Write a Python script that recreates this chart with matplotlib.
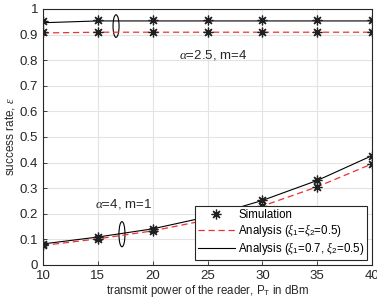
import matplotlib.pyplot as plt
from matplotlib.patches import Ellipse

plt.rcParams['font.family'] = ['Liberation Sans', 'DejaVu Sans']
plt.rcParams['mathtext.fontset'] = 'custom'
plt.rcParams['mathtext.rm'] = 'Liberation Sans'
plt.rcParams['mathtext.it'] = 'Liberation Serif:italic'

# transmit power (dBm)
pt = [10, 15, 20, 25, 30, 35, 40]

# alpha=2.5, m=4
sim_hi_a = [0.952, 0.955, 0.955, 0.955, 0.955, 0.955, 0.955]
sim_hi_b = [0.908, 0.910, 0.910, 0.910, 0.910, 0.910, 0.910]
ana_hi_equal = [0.906, 0.909, 0.909, 0.909, 0.909, 0.909, 0.909]
ana_hi_unequal = [0.946, 0.953, 0.953, 0.953, 0.953, 0.953, 0.953]

# alpha=4, m=1
sim_lo_a = [0.082, 0.110, 0.142, 0.190, 0.254, 0.332, 0.427]
sim_lo_b = [0.076, 0.103, 0.134, 0.178, 0.232, 0.306, 0.395]
ana_lo_equal = [0.076, 0.102, 0.133, 0.176, 0.230, 0.305, 0.395]
ana_lo_unequal = [0.082, 0.109, 0.141, 0.188, 0.252, 0.330, 0.427]

fig = plt.figure(figsize=(3.77, 3.07), dpi=100)
ax = fig.add_axes([0.114, 0.137, 0.873, 0.834])

ax.plot(pt, ana_hi_equal, '--', color='#f03030', lw=0.9, dashes=(5, 3))
ax.plot(pt, ana_hi_unequal, '-', color='black', lw=0.8)
ax.plot(pt, ana_lo_equal, '--', color='#f03030', lw=0.9, dashes=(5, 3))
ax.plot(pt, ana_lo_unequal, '-', color='black', lw=0.8)

star = (8, 2, 0)
for s in (sim_hi_a, sim_hi_b, sim_lo_a, sim_lo_b):
    ax.plot(pt, s, linestyle='none', marker=star, ms=7, mew=0.9, color='#202020')

# legend handles
h_sim, = ax.plot([], [], linestyle='none', marker=star, ms=7, mew=0.9,
                 color='#202020', label='Simulation')
h_eq, = ax.plot([], [], '--', color='#f03030', lw=0.9, dashes=(5, 3),
                label=r'Analysis ($\xi_1$=$\xi_2$=0.5)')
h_un, = ax.plot([], [], '-', color='black', lw=0.8,
                label=r'Analysis ($\xi_1$=0.7, $\xi_2$=0.5)')
leg = ax.legend(handles=[h_sim, h_eq, h_un], loc='lower right', fontsize=8.3,
                fancybox=False, framealpha=1, edgecolor='#262626',
                borderpad=0.25, labelspacing=0.1, handlelength=3.2,
                handletextpad=0.3, borderaxespad=0.4)
leg.get_frame().set_linewidth(0.8)

ax.add_patch(Ellipse((16.66, 0.933), 0.55, 0.088, fill=False, lw=0.8, color='black'))
ax.add_patch(Ellipse((17.2, 0.120), 0.55, 0.098, fill=False, lw=0.8, color='black'))

ax.text(22.4, 0.82, r'$\alpha$=2.5, m=4', fontsize=9.5, va='center', color='#262626')
ax.text(14.7, 0.238, r'$\alpha$=4, m=1', fontsize=9.5, va='center', color='#262626')

ax.set_xlim(10, 40)
ax.set_ylim(0, 1)
ax.set_xticks(range(10, 41, 5))
ax.set_yticks([i / 10 for i in range(11)])
ax.set_yticklabels(['0', '0.1', '0.2', '0.3', '0.4', '0.5', '0.6', '0.7', '0.8', '0.9', '1'])
ax.grid(True, color='#e3e3e3', lw=0.8)
ax.set_axisbelow(True)
ax.tick_params(direction='in', labelsize=9.5, colors='#262626', length=3, width=0.6)
for sp in ax.spines.values():
    sp.set_color('#262626')
    sp.set_linewidth(0.8)

ax.set_xlabel(r'transmit power of the reader, P$_{\rm T}$ in dBm', fontsize=8.3,
              color='#262626', labelpad=1)
ax.set_ylabel(r'success rate, $\epsilon$', fontsize=8.5, color='#262626', labelpad=2)

fig.savefig('out.png', dpi=100)
